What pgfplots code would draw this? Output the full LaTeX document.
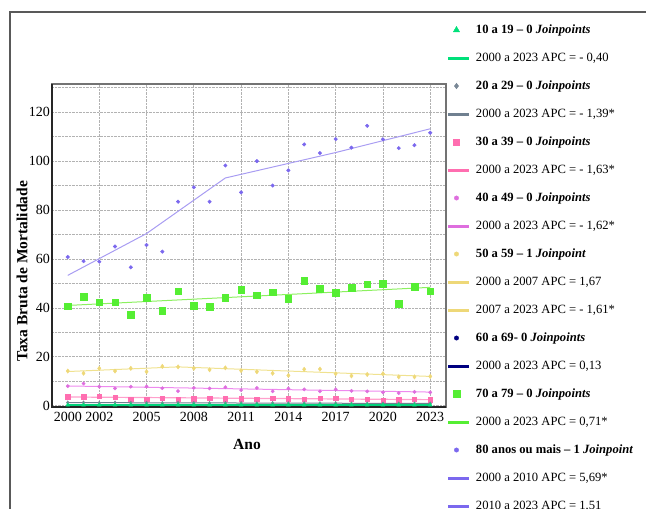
\documentclass[border=0pt]{standalone}
\usepackage{fontspec}
\setmainfont{Liberation Serif}
\usepackage{pgfplots}
\pgfplotsset{compat=1.18}
\usepackage{pgfplotstable}

\definecolor{c10}{HTML}{00E07A}
\definecolor{c10l}{HTML}{00D27A}
\definecolor{c20}{HTML}{7A8896}
\definecolor{c20l}{HTML}{708090}
\definecolor{c30m}{HTML}{FF6EB0}
\definecolor{c30l}{HTML}{FFA0CC}
\definecolor{c40m}{HTML}{DE6EDE}
\definecolor{c40l}{HTML}{EE8AEE}
\definecolor{c50m}{HTML}{EED878}
\definecolor{c50l}{HTML}{F0E290}
\definecolor{c60}{HTML}{000080}
\definecolor{c70m}{HTML}{55EE33}
\definecolor{c70l}{HTML}{8CF060}
\definecolor{c80m}{HTML}{7B68EE}
\definecolor{c80l}{HTML}{A89CF2}

\pgfplotstableread{
year a10 a20 a30 a40 a50 a70 a80
2000 0.3 1.3 3.7 8.0 14.2 40.7 60.8
2001 0.3 1.3 3.7 9.1 13.3 44.7 59.1
2002 0.3 1.2 4.0 7.8 15.3 42.4 58.9
2003 0.3 1.3 3.6 7.1 14.2 42.4 65.1
2004 0.3 1.2 2.7 7.8 15.3 37.3 56.6
2005 0.3 1.2 2.7 7.9 13.9 44.2 65.7
2006 0.3 1.1 3.0 7.2 16.1 38.9 63.0
2007 0.3 1.2 2.7 6.0 15.9 46.8 83.4
2008 0.3 1.1 2.9 7.3 15.3 40.8 89.3
2009 0.3 1.1 3.0 7.1 14.7 40.6 83.4
2010 0.3 1.1 2.9 7.6 15.5 44.2 98.2
2011 0.3 1.1 2.9 6.4 14.4 47.5 87.2
2012 0.3 1.0 2.6 7.3 13.9 45.2 100.0
2013 0.3 1.1 3.0 5.9 13.3 46.4 90.0
2014 0.3 1.0 2.9 7.1 12.4 43.8 96.2
2015 0.3 1.0 2.6 6.7 14.9 51.2 106.8
2016 0.3 1.0 3.0 5.9 15.0 47.9 103.3
2017 0.3 1.0 3.0 6.7 13.1 46.3 109.0
2018 0.3 0.9 2.6 6.1 12.2 48.3 105.5
2019 0.3 0.9 2.6 5.9 12.8 49.7 114.4
2020 0.3 0.9 2.2 5.5 13.1 50.0 108.9
2021 0.3 0.9 2.5 5.2 11.8 41.6 105.3
2022 0.3 0.9 2.6 5.7 11.8 48.6 106.5
2023 0.3 0.9 2.5 5.5 12.0 46.9 111.6
}\data

\pgfplotsset{
  legmark/.style={legend image code/.code={\draw[##1] plot coordinates {(8pt,0pt)};}},
  legline/.style={legend image code/.code={\draw[##1, line width=3pt] (0pt,0pt) -- (21pt,0pt);}},
}

\begin{document}
\begin{tikzpicture}
\useasboundingbox (0,0) rectangle (646pt,-509pt);
\draw[black!65, line width=1.5pt] (10pt,-12pt) rectangle (720pt,-600pt);
\begin{axis}[
  at={(52pt,-407pt)}, anchor=south west,
  scale only axis, width=394pt, height=323pt,
  xmin=1999, xmax=2024, ymin=-0.5, ymax=131.5,
  xtick={2002,2005,...,2023}, extra x ticks={2000},
  extra x tick style={grid=none},
  ytick={0,20,...,120}, minor ytick={10,30,...,130},
  grid=both,
  major grid style={densely dotted, black!30, line width=0.7pt},
  minor grid style={densely dotted, black!30, line width=0.7pt},
  major tick length=0pt, minor tick length=0pt,
  /pgf/number format/1000 sep={},
  /pgf/number format/assume math mode=true,
  tick label style={font=\fontsize{14}{16}\selectfont},
  yticklabel style={inner sep=0pt, xshift=-2pt},
  xticklabel style={inner sep=0pt, yshift=-5pt},
  axis line style={black!55, line width=1.2pt},
  xlabel={Ano}, ylabel={Taxa Bruta de Mortalidade},
  xlabel style={at={(axis description cs:0.495,-0.1146)}, anchor=center, font=\bfseries\fontsize{15.5}{18}\selectfont},
  ylabel style={at={(axis description cs:-0.076,0.42)}, anchor=center, font=\bfseries\fontsize{15.5}{18}\selectfont},
  legend style={at={(1.0025,1.1857)}, anchor=north west, draw=none, fill=none,
    inner sep=0pt, outer sep=0pt, row sep=16pt, column sep=5pt,
    nodes={inner sep=0pt, anchor=west, text height=9pt, text depth=3pt, font=\fontsize{12.6}{14}\selectfont}},
  legend cell align=left,
  clip=false,
]
% trend lines
\addplot[forget plot, c70l, line width=1pt] coordinates {(2000,41.0) (2023,48.4)};
\addplot[forget plot, c80l, line width=1pt] coordinates {(2000,53.3) (2005,70.4) (2010,93.1) (2017,103.5) (2023,113.2)};
\addplot[forget plot, c50l, line width=1pt] coordinates {(2000,14.0) (2007,15.9) (2023,12.0)};
\addplot[forget plot, c40l, line width=1pt] coordinates {(2000,8.1) (2023,5.6)};
\addplot[forget plot, c30l, line width=1.2pt] coordinates {(2000,3.6) (2023,2.5)};
\addplot[forget plot, c20l, line width=1pt] coordinates {(2000,1.3) (2023,0.95)};
% points
\addplot[forget plot, only marks, mark=*, mark size=1.8pt, c80m] table[x=year, y=a80] {\data};
\addplot[forget plot, only marks, mark=square*, mark size=3.3pt, c70m] table[x=year, y=a70] {\data};
\addplot[forget plot, only marks, mark=diamond*, mark size=2.2pt, c50m] table[x=year, y=a50] {\data};
\addplot[forget plot, only marks, mark=*, mark size=1.7pt, c40m] table[x=year, y=a40] {\data};
\addplot[forget plot, only marks, mark=square*, mark size=2.2pt, c30m] table[x=year, y=a30] {\data};
\addplot[forget plot, only marks, mark=diamond*, mark size=1.8pt, c20] table[x=year, y=a20] {\data};
\addplot[forget plot, only marks, mark=triangle*, mark size=2.2pt, c10] table[x=year, y=a10] {\data};
\addplot[forget plot, c10l, line width=2pt] coordinates {(2000,0.32) (2023,0.29)};
% axis emphasis
\draw[black!85, line width=1.3pt] (rel axis cs:0,1) -- (rel axis cs:0,0) -- (rel axis cs:1,0);
% legend
\addlegendimage{legmark, only marks, mark=triangle*, mark size=3.6pt, c10}
\addlegendentry{\textbf{10 a 19 – 0 \textit{Joinpoints}}}
\addlegendimage{legline, c10}
\addlegendentry{2000 a 2023 APC = - 0,40}
\addlegendimage{legmark, only marks, mark=diamond*, mark size=2.8pt, c20}
\addlegendentry{\textbf{20 a 29 – 0 \textit{Joinpoints}}}
\addlegendimage{legline, c20l}
\addlegendentry{2000 a 2023 APC = - 1,39*}
\addlegendimage{legmark, only marks, mark=square*, mark size=2.8pt, c30m}
\addlegendentry{\textbf{30 a 39 – 0 \textit{Joinpoints}}}
\addlegendimage{legline, c30m}
\addlegendentry{2000 a 2023 APC = - 1,63*}
\addlegendimage{legmark, only marks, mark=*, mark size=2.2pt, c40m}
\addlegendentry{\textbf{40 a 49 – 0 \textit{Joinpoints}}}
\addlegendimage{legline, c40m}
\addlegendentry{2000 a 2023 APC = - 1,62*}
\addlegendimage{legmark, only marks, mark=*, mark size=2.2pt, c50m}
\addlegendentry{\textbf{50 a 59 – 1 \textit{Joinpoint}}}
\addlegendimage{legline, c50m}
\addlegendentry{2000 a 2007 APC = 1,67}
\addlegendimage{legline, c50m}
\addlegendentry{2007 a 2023 APC = - 1,61*}
\addlegendimage{legmark, only marks, mark=*, mark size=2.2pt, c60}
\addlegendentry{\textbf{60 a 69- 0 \textit{Joinpoints}}}
\addlegendimage{legline, c60}
\addlegendentry{2000 a 2023 APC = 0,13}
\addlegendimage{legmark, only marks, mark=square*, mark size=3.6pt, c70m}
\addlegendentry{\textbf{70 a 79 – 0 \textit{Joinpoints}}}
\addlegendimage{legline, c70m}
\addlegendentry{2000 a 2023 APC = 0,71*}
\addlegendimage{legmark, only marks, mark=*, mark size=2.2pt, c80m}
\addlegendentry{\textbf{80 anos ou mais – 1 \textit{Joinpoint}}}
\addlegendimage{legline, c80m}
\addlegendentry{2000 a 2010 APC = 5,69*}
\addlegendimage{legline, c80m}
\addlegendentry{2010 a 2023 APC = 1,51}
\end{axis}
\end{tikzpicture}
\end{document}
